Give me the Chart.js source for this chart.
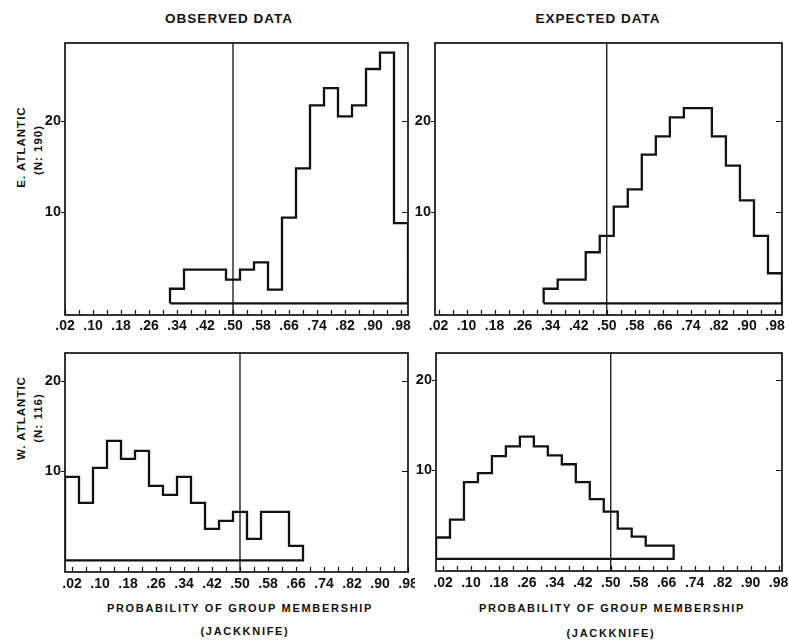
<!DOCTYPE html>
<html>
<head>
<meta charset="utf-8">
<script src="https://cdn.jsdelivr.net/npm/chart.js@4/dist/chart.umd.min.js"></script>
<style>
  body { margin: 0; background: #fff; width: 789px; height: 640px; position: relative; overflow: hidden;
         font-family: "Liberation Sans", Arial, sans-serif; color: #111; }
  canvas { position: absolute; }
  .lbl { position: absolute; white-space: nowrap; font-weight: bold; transform: translate(-50%, -50%); }
  .rot { transform: translate(-50%, -50%) rotate(-90deg); }
</style>
</head>
<body>
<div class="lbl" style="left:229px;top:18px;font-size:13.5px;letter-spacing:1px">OBSERVED DATA</div>
<div class="lbl" style="left:598px;top:18px;font-size:13.5px;letter-spacing:1px">EXPECTED DATA</div>
<div class="lbl rot" style="left:21px;top:147px;font-size:11.5px;letter-spacing:1px">E. ATLANTIC</div>
<div class="lbl rot" style="left:38px;top:150px;font-size:11.5px;letter-spacing:1px">(N: 190)</div>
<div class="lbl rot" style="left:21px;top:418px;font-size:11.5px;letter-spacing:1px">W. ATLANTIC</div>
<div class="lbl rot" style="left:38px;top:418px;font-size:11.5px;letter-spacing:1px">(N: 116)</div>
<div class="lbl" style="left:240px;top:608px;font-size:11px;letter-spacing:1.7px">PROBABILITY OF GROUP MEMBERSHIP</div>
<div class="lbl" style="left:245px;top:631px;font-size:11px;letter-spacing:1.7px">(JACKKNIFE)</div>
<div class="lbl" style="left:612px;top:608px;font-size:11px;letter-spacing:1.7px">PROBABILITY OF GROUP MEMBERSHIP</div>
<div class="lbl" style="left:611px;top:633px;font-size:11px;letter-spacing:1.7px">(JACKKNIFE)</div>

<canvas id="tl"></canvas>
<canvas id="tr"></canvas>
<canvas id="bl"></canvas>
<canvas id="br"></canvas>

<script>
// Histogram bins are 0.04 wide in probability of group membership.
const binWidth = 0.04;
const splitValue = 0.50;

// Labelled ticks on the probability axis (minor ticks fall halfway between).
const xTickLabels = ['.02', '.10', '.18', '.26', '.34', '.42', '.50', '.58', '.66', '.74', '.82', '.90', '.98'];
const yTickValues = [10, 20];

// E. Atlantic (N: 190): bins from 0.32 to 1.00
const eastStart = 0.32;
const eastObserved = [1.6, 3.7, 3.7, 3.7, 2.6, 3.7, 4.5, 1.5, 9.4, 14.8, 21.7, 23.6, 20.5, 21.7, 25.7, 27.5, 8.8];
const eastExpected = [1.6, 2.6, 2.6, 5.6, 7.4, 10.6, 12.5, 16.3, 18.3, 20.4, 21.4, 21.4, 18.3, 15.1, 11.3, 7.4, 3.3];

// W. Atlantic (N: 116): bins from 0.00 to 0.68
const westStart = 0.00;
const westObserved = [9.3, 6.4, 10.3, 13.3, 11.3, 12.2, 8.3, 7.3, 9.3, 6.4, 3.5, 4.4, 5.4, 2.4, 5.4, 5.4, 1.6];
const westExpected = [2.4, 4.4, 8.6, 9.6, 11.5, 12.6, 13.7, 12.6, 11.6, 10.6, 8.6, 6.7, 5.3, 3.4, 2.5, 1.5, 1.5];

// Panel frames on the page and the ranges of their axes.
const panels = [
  { id: 'tl', box: [65, 43, 408, 315], x: [0.02, 1.00], y: [-1.28, 28.55], start: eastStart, values: eastObserved, pad: 3 },
  { id: 'tr', box: [435, 43, 782, 315], x: [0.01, 1.00], y: [-1.28, 28.55], start: eastStart, values: eastExpected, pad: 3 },
  { id: 'bl', box: [65, 353, 408, 572], x: [0.00, 0.98], y: [-1.30, 23.10], start: westStart, values: westObserved, pad: 4 },
  { id: 'br', box: [436, 353, 782, 571], x: [0.00, 0.99], y: [-1.35, 23.05], start: westStart, values: westExpected, pad: 4 }
];

const INK = '#111';
const Y_AXIS_W = 55, X_AXIS_H = 25, PAD_T = 8, PAD_R = 7;

Chart.defaults.font.family = '"Liberation Sans", Arial, sans-serif';
Chart.defaults.font.size = 14;
Chart.defaults.font.weight = 'bold';
Chart.defaults.color = INK;

// Closed step outline of a histogram: up from the baseline, across each bin, back along the baseline.
function histogramOutline(start, values) {
  const pts = [{ x: start, y: 0 }];
  values.forEach((v, i) => {
    pts.push({ x: start + i * binWidth, y: v });
    pts.push({ x: start + (i + 1) * binWidth, y: v });
  });
  const end = start + values.length * binWidth;
  pts.push({ x: end, y: 0 });
  pts.push({ x: start, y: 0 });
  return pts;
}

// Frame around the plot plus the short tick marks (inward on the bottom and right, outward on the left).
const framePlugin = {
  id: 'frame',
  afterDatasetsDraw(chart) {
    const { ctx, chartArea: a, scales: { x, y } } = chart;
    ctx.save();
    ctx.strokeStyle = INK;
    ctx.lineWidth = 1.2;
    ctx.beginPath();
    x.ticks.forEach(t => {
      const px = Math.round(x.getPixelForValue(t.value)) + 0.5;
      ctx.moveTo(px, a.bottom);
      ctx.lineTo(px, a.bottom - 5);
    });
    y.ticks.forEach(t => {
      const py = Math.round(y.getPixelForValue(t.value)) + 0.5;
      ctx.moveTo(a.left, py); ctx.lineTo(a.left - 4, py);
      ctx.moveTo(a.right, py); ctx.lineTo(a.right - 6, py);
    });
    ctx.stroke();
    ctx.lineWidth = 1.7;
    ctx.strokeRect(a.left, a.top, a.right - a.left, a.bottom - a.top);
    ctx.restore();
  }
};

panels.forEach(p => {
  const [l, t, r, b] = p.box;
  const cv = document.getElementById(p.id);
  const w = (r - l) + Y_AXIS_W + PAD_R;
  const h = (b - t) + PAD_T + X_AXIS_H;
  cv.width = w; cv.height = h;
  cv.style.left = (l - Y_AXIS_W) + 'px';
  cv.style.top = (t - PAD_T) + 'px';
  cv.style.width = w + 'px'; cv.style.height = h + 'px';

  // Major ticks at the labelled values, minor ticks halfway between them.
  const tickValues = [];
  xTickLabels.forEach((lab, i) => {
    const v = parseFloat('0' + lab);
    tickValues.push({ value: v, label: lab });
    if (i < xTickLabels.length - 1) tickValues.push({ value: v + binWidth, label: '' });
  });

  new Chart(cv, {
    type: 'scatter',
    data: {
      datasets: [
        {
          data: histogramOutline(p.start, p.values),
          showLine: true, borderColor: INK, borderWidth: 2.3,
          pointRadius: 0, tension: 0, fill: false, borderJoinStyle: 'miter'
        },
        {
          data: [{ x: splitValue, y: p.y[0] }, { x: splitValue, y: p.y[1] }],
          showLine: true, borderColor: INK, borderWidth: 1.3, pointRadius: 0
        }
      ]
    },
    options: {
      responsive: false,
      animation: false,
      devicePixelRatio: 1,
      layout: { padding: { top: PAD_T, right: PAD_R, left: 0, bottom: 0 } },
      plugins: { legend: { display: false }, tooltip: { enabled: false } },
      scales: {
        x: {
          type: 'linear', min: p.x[0], max: p.x[1],
          grid: { display: false, drawTicks: false },
          border: { display: false },
          afterBuildTicks: s => { s.ticks = tickValues.map(o => ({ value: o.value })); },
          ticks: {
            autoSkip: false, maxRotation: 0, padding: p.pad,
            callback: (v, i) => tickValues[i].label
          },
          afterFit: s => { s.height = X_AXIS_H; s.paddingLeft = 0; s.paddingRight = 0; }
        },
        y: {
          type: 'linear', min: p.y[0], max: p.y[1],
          grid: { display: false, drawTicks: false },
          border: { display: false },
          afterBuildTicks: s => { s.ticks = yTickValues.map(v => ({ value: v })); },
          ticks: { padding: 4, font: { size: 14.5 }, callback: v => String(v) },
          afterFit: s => { s.width = Y_AXIS_W; s.paddingTop = 0; s.paddingBottom = 0; }
        }
      }
    },
    plugins: [framePlugin]
  });
});
</script>
</body>
</html>
